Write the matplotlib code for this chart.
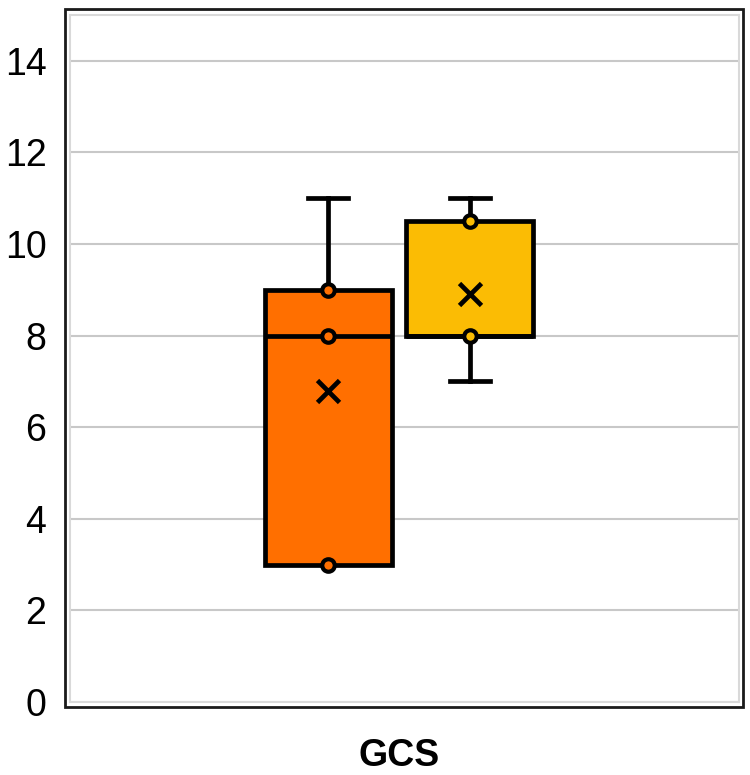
import matplotlib
matplotlib.use("Agg")
import matplotlib.pyplot as plt
from matplotlib.patches import Rectangle
import numpy as np

plt.rcParams['font.family'] = ['Liberation Sans', 'DejaVu Sans']

# Data
category = "GCS"
series_values = {
    "A": [3, 3, 8, 9, 11],
    "B": [7, 8, 8, 10.5, 11],
}
visible_points = {
    "A": [3, 8, 9],
    "B": [8, 10.5],
}
colors = ["#FF6F00", "#FBBC04"]
yticks = [0, 2, 4, 6, 8, 10, 12, 14]

fig = plt.figure(figsize=(7.5, 7.75), dpi=100)
ax = fig.add_axes([70/750, 73/775, 669/750, 687/775])

names = list(series_values.keys())
data = [series_values[n] for n in names]
positions = [0, 1]
lw = 3.4
bp = ax.boxplot(data, positions=positions, widths=0.9, whis=(0, 100),
                patch_artist=True, showmeans=True, showfliers=False,
                meanprops=dict(marker='x', markeredgecolor='black', markersize=16,
                               markeredgewidth=3.4),
                medianprops=dict(color='black', linewidth=lw),
                whiskerprops=dict(color='black', linewidth=lw),
                capprops=dict(color='black', linewidth=lw),
                boxprops=dict(edgecolor='black', linewidth=lw),
                capwidths=0.28, zorder=3)
for patch, c in zip(bp['boxes'], colors):
    patch.set_facecolor(c)
    patch.set_joinstyle('miter')
# hide zero-length whisker caps
for i, vals in enumerate(data):
    q1, q3 = np.percentile(vals, [25, 75])
    if min(vals) == q1:
        bp['caps'][2*i].set_visible(False)
        bp['whiskers'][2*i].set_visible(False)
    if max(vals) == q3:
        bp['caps'][2*i+1].set_visible(False)
        bp['whiskers'][2*i+1].set_visible(False)

for pos, n, c in zip(positions, names, colors):
    pts = visible_points[n]
    ax.plot([pos]*len(pts), pts, 'o', markersize=9, markerfacecolor=c,
            markeredgecolor='black', markeredgewidth=3, zorder=5, linestyle='none')

ax.set_xlim(-1.825, 2.903)
ax.set_ylim(0, 15)
ax.set_yticks(yticks)
ax.set_xticks([0.5])
ax.set_xticklabels([category], fontsize=27, fontweight='bold')
ax.tick_params(axis='y', length=0, pad=17, labelsize=27)
ax.tick_params(axis='x', length=0, pad=26)
ax.yaxis.grid(True, color='#c8c8c8', linewidth=1.5, zorder=0)
ax.set_axisbelow(True)
for s in ax.spines.values():
    s.set_color('#d9d9d9')
    s.set_linewidth(1.5)

frame = Rectangle((65/750, 68/775), 678/750, 698/775, transform=fig.transFigure,
                  fill=False, edgecolor='#1a1a1a', linewidth=2)
fig.patches.append(frame)

fig.savefig("out.png", dpi=100)
